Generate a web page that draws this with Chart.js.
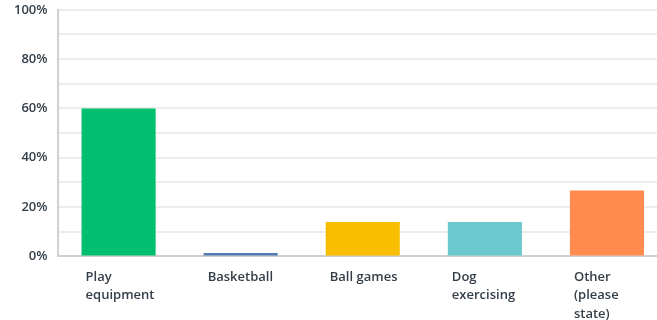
<!DOCTYPE html>
<html>
<head>
<meta charset="utf-8">
<script src="https://cdn.jsdelivr.net/npm/chart.js@4"></script>
<style>
  html, body { margin: 0; padding: 0; background: #fff; overflow: hidden; }
  #wrap { position: relative; width: 672px; height: 343px; margin-top: -8px; }
</style>
</head>
<body>
<div id="wrap"><canvas id="mycanvas"></canvas></div>
<script>
var categories = [['Play', 'equipment'], 'Basketball', 'Ball games', ['Dog', 'exercising'], ['Other', '(please', 'state)']];
var percentages = [60, 1.4, 14, 14, 26.7];
var barColors = ['#00bf6f', '#507cb6', '#f9be00', '#6bc8cd', '#ff8b4f'];
var yTicks = [0, 20, 40, 60, 80, 100];

var chartdata = {
	labels: categories,
	datasets: [
		{
			label: 'Responses',
			backgroundColor: barColors,
			borderWidth: 0,
			barPercentage: 0.607,
			categoryPercentage: 1,
			data: percentages
		}
	]
};

var ctx = document.getElementById('mycanvas');

var barGraph = new Chart(ctx, {
	type: 'bar',
	data: chartdata,
	options: {
		responsive: true,
		maintainAspectRatio: false,
		animation: false,
		layout: { padding: { left: 4, top: 0, right: 4, bottom: 0 } },
		plugins: {
			legend: { display: false },
			tooltip: { enabled: false }
		},
		scales: {
			x: {
				grid: { display: false, drawTicks: false },
				border: { color: '#d0d0d0', width: 2 },
				ticks: {
					color: '#333e48',
					font: { family: 'Open Sans', size: 13, weight: '600', lineHeight: 1.4 },
					align: 'start',
					labelOffset: -33,
					padding: 12,
					maxRotation: 0,
					autoSkip: false
				}
			},
			y: {
				min: 0,
				max: 100,
				grid: { color: '#ececec', lineWidth: 2, drawTicks: false },
				border: { color: '#d0d0d0', width: 2 },
				ticks: {
					stepSize: 10,
					color: '#333e48',
					font: { family: 'Open Sans', size: 13, weight: '600' },
					padding: 10,
					callback: function(v) {
						return yTicks.indexOf(v) >= 0 ? v + '%' : '';
					}
				}
			}
		}
	}
});
</script>
</body>
</html>
